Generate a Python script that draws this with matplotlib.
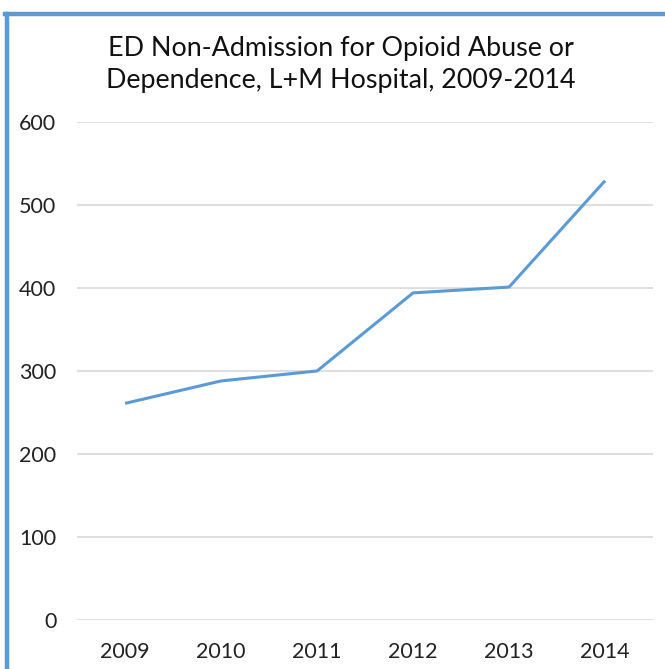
import matplotlib
matplotlib.use("Agg")
import matplotlib.pyplot as plt
from matplotlib.lines import Line2D

years = ["2009", "2010", "2011", "2012", "2013", "2014"]
visits = [261, 288, 300, 394, 401, 529]
yticks = [0, 100, 200, 300, 400, 500, 600]

plt.rcParams['font.family'] = ['Lato', 'DejaVu Sans']

fig = plt.figure(figsize=(6.65, 6.69), dpi=100)
ax = fig.add_axes([0.116, 0.073, 0.866, 0.745])

ax.plot(range(len(years)), visits, color='#5b9bd5', linewidth=2.2, solid_capstyle='butt')
ax.set_xlim(-0.5, len(years) - 0.5)
ax.set_ylim(0, 600)
ax.set_xticks(range(len(years)))
ax.set_xticklabels(years)
ax.set_yticks(yticks)
ax.yaxis.grid(True, color='#d9d9d9', linewidth=1.2)
ax.set_axisbelow(True)
for s in ax.spines.values():
    s.set_visible(False)
ax.tick_params(length=0, labelsize=15.5, colors='#222222')
ax.tick_params(axis='x', pad=16)
ax.tick_params(axis='y', pad=15)

fig.text(0.512, 0.946, "ED Non-Admission for Opioid Abuse or\nDependence, L+M Hospital, 2009-2014",
         ha='center', va='top', fontsize=19.4, color='#111111', linespacing=1.32)

# blue frame (left and top edges)
fig.add_artist(Line2D([0.0105, 0.0105], [0, 0.979], color='#5b9bd5', linewidth=3.2))
fig.add_artist(Line2D([0.008, 1.0], [0.979, 0.979], color='#5b9bd5', linewidth=3.2))

fig.savefig("out.png", dpi=100)
